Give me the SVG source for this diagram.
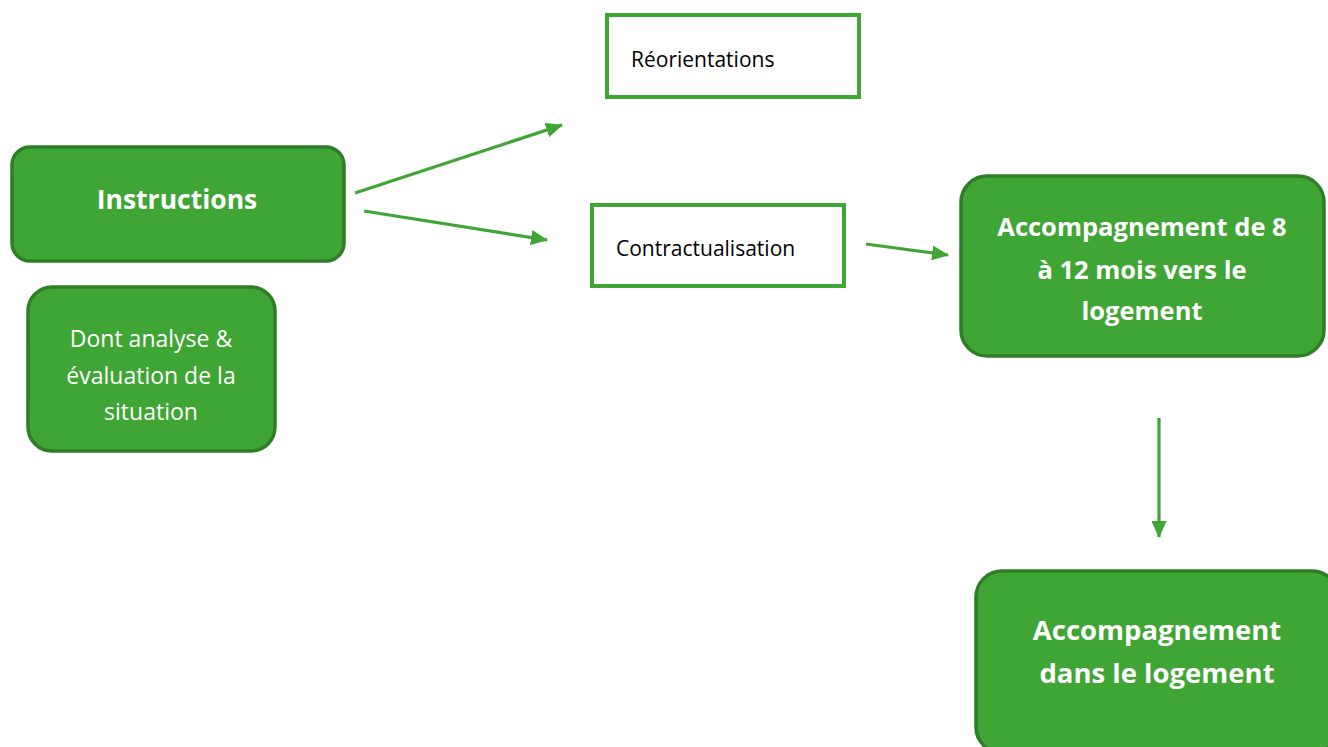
<svg xmlns="http://www.w3.org/2000/svg" width="1328" height="747" viewBox="0 0 1328 747">
<defs>
<style>
.g{fill:#3fa535;stroke:#2f7d27;stroke-width:3.5}
.w{fill:#fff;stroke:#3fa535;stroke-width:4}
.tw{fill:#fff;font-family:"Open Sans","Noto Sans",sans-serif;text-anchor:middle}
.b{font-weight:bold}
.tb{fill:#000;font-family:"Open Sans","Noto Sans",sans-serif;font-size:21px}
.c{stroke:#3fa535;stroke-width:3.2;fill:none;marker-end:url(#ah)}
</style>
<marker id="ah" viewBox="0 0 17 15" markerWidth="17" markerHeight="15" refX="16" refY="7.5" orient="auto" markerUnits="userSpaceOnUse">
<path d="M0,0 L17,7.5 L0,15 Z" fill="#3fa535"/>
</marker>
</defs>
<rect width="1328" height="747" fill="#fff"/>
<g id="connectors">
<line class="c" x1="355" y1="193" x2="562" y2="125"/>
<line class="c" x1="364" y1="211" x2="547" y2="240"/>
<line class="c" x1="866" y1="244" x2="948" y2="255"/>
<line class="c" x1="1159" y1="418" x2="1159" y2="537"/>
</g>
<g id="instructions">
<rect class="g" x="12" y="147" width="332" height="114" rx="18"/>
<text class="tw b" x="177" y="209" font-size="26.5">Instructions</text>
</g>
<g id="analyse">
<rect class="g" x="28" y="287" width="247" height="164" rx="24"/>
<text class="tw" x="151" y="347" font-size="23">Dont analyse &amp;</text>
<text class="tw" x="151" y="384" font-size="23">évaluation de la</text>
<text class="tw" x="151" y="420" font-size="23">situation</text>
</g>
<g id="reorientations">
<rect class="w" x="607" y="15" width="252" height="82"/>
<text class="tb" x="631" y="67">Réorientations</text>
</g>
<g id="contractualisation">
<rect class="w" x="592" y="205" width="252" height="81"/>
<text class="tb" x="616" y="256">Contractualisation</text>
</g>
<g id="accompagnement-vers">
<rect class="g" x="961" y="176" width="363" height="180" rx="26"/>
<text class="tw b" x="1142" y="236" font-size="25.5">Accompagnement de 8</text>
<text class="tw b" x="1142" y="279" font-size="25.5">à 12 mois vers le</text>
<text class="tw b" x="1142" y="320" font-size="25.5">logement</text>
</g>
<g id="accompagnement-dans">
<rect class="g" x="976" y="571" width="362" height="182" rx="26"/>
<text class="tw b" x="1157" y="640" font-size="27.5">Accompagnement</text>
<text class="tw b" x="1157" y="683" font-size="27.5">dans le logement</text>
</g>
</svg>
